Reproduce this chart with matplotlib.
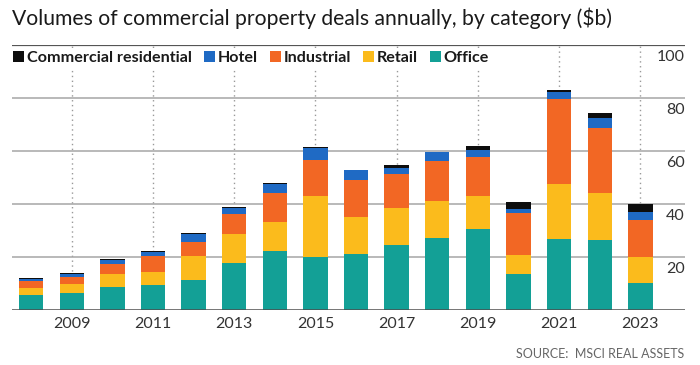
import numpy as np
import matplotlib
matplotlib.use('Agg')
import matplotlib.pyplot as plt
import matplotlib.transforms as mtransforms
from matplotlib.patches import Patch

years = list(range(2008, 2024))
office = [5.5, 6.4, 8.7, 9.3, 11.2, 17.8, 22.3, 20.0, 21.2, 24.6, 27.3, 30.4, 13.7, 26.7, 26.4, 10.3]
retail = [2.9, 3.5, 5.0, 5.0, 9.1, 10.7, 10.8, 23.2, 14.0, 13.8, 13.9, 12.7, 7.2, 20.8, 17.7, 9.7]
industrial = [2.4, 2.5, 3.8, 6.0, 5.4, 7.6, 11.0, 13.5, 13.7, 13.0, 14.9, 14.5, 15.8, 32.3, 24.7, 14.0]
hotel = [1.0, 1.0, 1.5, 1.6, 2.8, 2.4, 3.5, 4.3, 4.0, 2.2, 3.4, 2.7, 1.4, 2.5, 3.5, 3.1]
comres = [0.3, 0.4, 0.2, 0.4, 0.4, 0.5, 0.2, 0.4, 0.1, 1.1, 0.1, 1.7, 2.8, 0.6, 2.2, 2.9]

series = [
    ('Office', office, '#13a096'),
    ('Retail', retail, '#fbbb1c'),
    ('Industrial', industrial, '#f26724'),
    ('Hotel', hotel, '#1f6ac4'),
    ('Commercial residential', comres, '#0d0d0d'),
]
yticks = [20, 40, 60, 80, 100]
xticks = list(range(2009, 2024, 2))

font = ['Lato', 'DejaVu Sans']

fig = plt.figure(figsize=(7, 3.65), dpi=100)
ax = fig.add_axes([12 / 700, 1 - 310 / 365, 673 / 700, 265 / 365])

# dotted guides at odd years, behind the bars
for x in xticks:
    ax.axvline(x, 0, 1, color='#999999', linestyle=(0, (1, 2.5)), linewidth=1, zorder=0)

# horizontal gridlines
for v in yticks[:-1]:
    ax.axhline(v, color='#a6a6a6', linewidth=1.1, zorder=1)
ax.axhline(100, color='#555555', linewidth=1.6, zorder=1)

bottom = np.zeros(len(years))
for name, vals, color in series:
    ax.bar(years, vals, width=0.6, bottom=bottom, color=color, zorder=2, linewidth=0)
    bottom += np.array(vals)

ax.axhline(0, color='#4d4d4d', linewidth=1.8, zorder=3)

ax.set_xlim(2007.53, 2024.1)
ax.set_ylim(0, 100)
for s in ax.spines.values():
    s.set_visible(False)
ax.set_yticks([])
ax.set_xticks(xticks)
ax.set_xticklabels([str(x) for x in xticks], fontsize=11.5, color='#333333', family=font)
ax.tick_params(axis='x', length=0, pad=5)

# y labels sit under their gridlines, right aligned
trans = mtransforms.blended_transform_factory(ax.transAxes, ax.transData)
for v in yticks:
    ax.text(1.0, v - 4.5, str(v), transform=trans, ha='right', va='center',
            fontsize=11.5, color='#333333', family=font)

handles = [Patch(facecolor=c, edgecolor='none', label=n) for n, _, c in series[::-1]]
leg = ax.legend(handles=handles, loc='upper left', bbox_to_anchor=(-0.003, 0.99), ncol=5,
                frameon=True, fancybox=False, framealpha=1, edgecolor='none',
                handlelength=0.7, handleheight=0.7, handletextpad=0.15, columnspacing=0.75,
                borderpad=0.2, borderaxespad=0,
                prop={'family': font, 'weight': 'bold', 'size': 11.6})
leg.set_zorder(5)
for t in leg.get_texts():
    t.set_color('#1a1a1a')

fig.text(12 / 700, 1 - 18 / 365, 'Volumes of commercial property deals annually, by category ($b)',
         ha='left', va='center', fontsize=15.2, color='#1a1a1a', family=font)
fig.text(684 / 700, 1 - 354 / 365, 'SOURCE:  MSCI REAL ASSETS', ha='right', va='center',
         fontsize=9, color='#666666', family=font)

fig.savefig('out.png', dpi=100)
